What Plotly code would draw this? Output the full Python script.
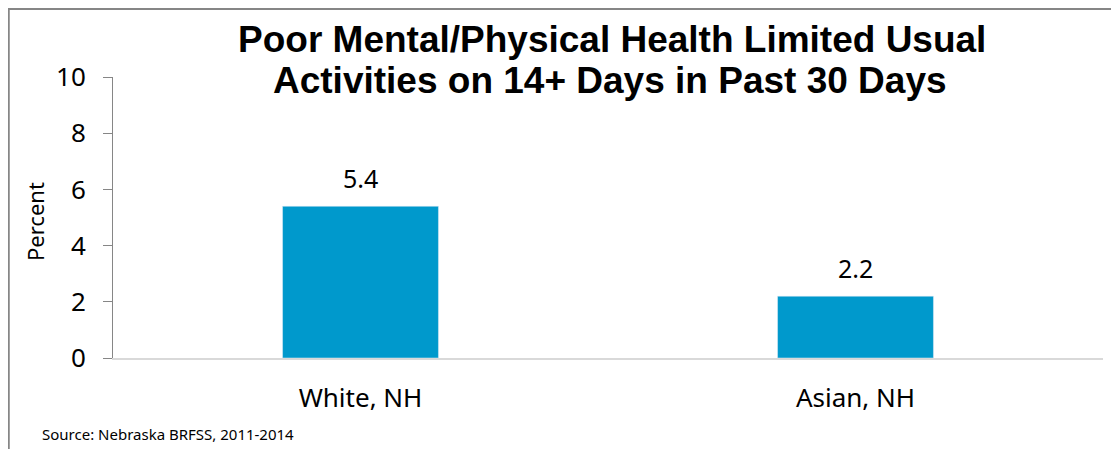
import plotly.graph_objects as go

categories = ["White, NH", "Asian, NH"]
values = [5.4, 2.2]
labels = ["5.4", "2.2"]

fig = go.Figure()
fig.add_trace(go.Bar(
    x=categories, y=values,
    marker_color="#0099CC", width=0.315,
))

# value labels above bars
notes = []
for c, v, t in zip(categories, values, labels):
    notes.append(dict(
        x=c, y=v, text=t, showarrow=False, yanchor="bottom", yshift=9,
        font=dict(size=25, family="Noto Sans", color="#000000"),
    ))

# title split into two lines for tighter spacing
notes.append(dict(
    text="<b>Poor Mental/Physical Health Limited Usual</b>", xref="paper", yref="paper",
    x=0.504, y=1.1317, xanchor="center", yanchor="middle", showarrow=False,
    font=dict(family="Liberation Sans", size=37, color="#000000"),
))
notes.append(dict(
    text="<b>Activities on 14+ Days in Past 30 Days</b>", xref="paper", yref="paper",
    x=0.502, y=0.9893, xanchor="center", yanchor="middle", showarrow=False,
    font=dict(family="Liberation Sans", size=37, color="#000000"),
))
notes.append(dict(
    text="Percent", xref="paper", yref="paper", textangle=-90,
    x=-0.0788, y=0.4875, xanchor="center", yanchor="middle", showarrow=False,
    font=dict(size=22, family="Noto Sans", color="#000000"),
))
notes.append(dict(
    text="Source: Nebraska BRFSS, 2011-2014", xref="paper", yref="paper",
    x=-0.0737, y=-0.2705, xanchor="left", yanchor="middle", showarrow=False,
    font=dict(size=15, family="Noto Sans", color="#000000"),
))

fig.update_layout(
    width=1119, height=449,
    margin=dict(l=105, r=24, t=69, b=99),
    paper_bgcolor="white", plot_bgcolor="white",
    showlegend=False,
    font=dict(family="Noto Sans", color="#000000"),
    xaxis=dict(
        showline=True, linecolor="#D9D9D9", linewidth=2,
        ticks="", tickfont=dict(size=26), ticklabelstandoff=16,
    ),
    yaxis=dict(
        range=[0, 10], dtick=2, showgrid=False, zeroline=False,
        showline=True, linecolor="#868686", linewidth=1,
        ticks="outside", ticklen=9, tickcolor="#868686",
        tickfont=dict(size=26), ticklabelstandoff=12,
    ),
    annotations=notes,
    shapes=[dict(
        type="rect", xref="paper", yref="paper",
        x0=-0.1053, x1=1.1, y0=-0.6, y1=1.242,
        line=dict(color="#868686", width=2), fillcolor="rgba(0,0,0,0)",
    )],
)

fig.write_html("out.html")
